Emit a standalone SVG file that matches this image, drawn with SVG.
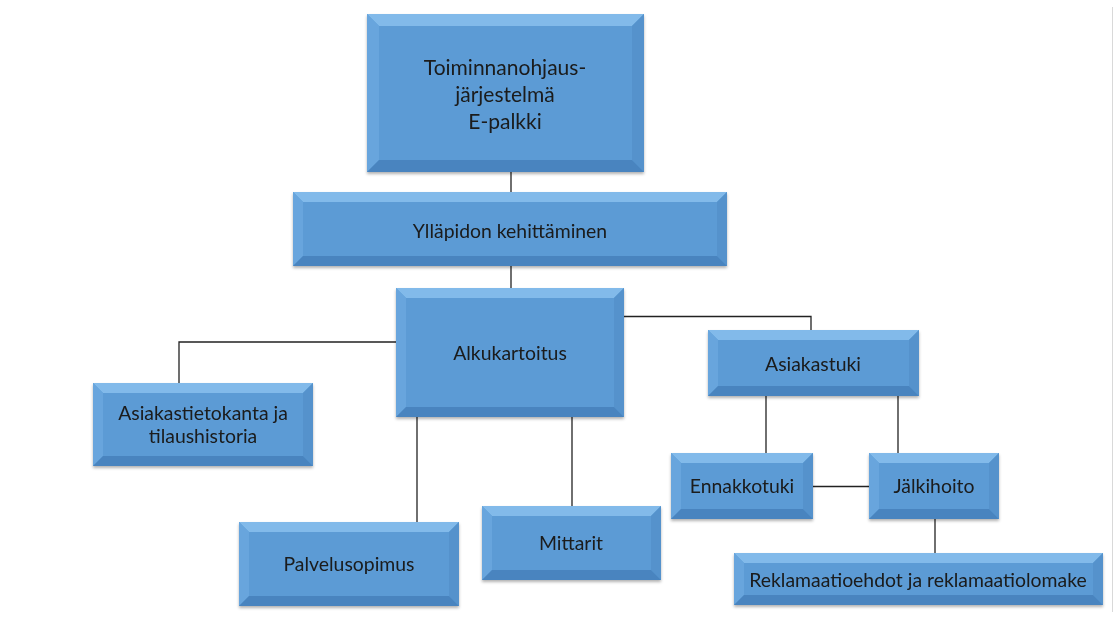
<svg xmlns="http://www.w3.org/2000/svg" width="1120" height="621" viewBox="0 0 1120 621">
<defs>
<filter id="sh" x="-10%" y="-10%" width="120%" height="130%">
<feDropShadow dx="0" dy="2" stdDeviation="1.6" flood-color="#000" flood-opacity="0.3"/>
</filter>
<style>
.c{fill:#5B9BD5}
.bt{fill:#82BAEA}
.bl{fill:#67A5DD}
.br{fill:#5592CC}
.bb{fill:#4884BF}
.t{font-family:Lato,"Liberation Sans",sans-serif;font-size:19.4px;fill:#1a1a1a;text-anchor:middle}
.tl{font-size:21px}
.ln{stroke:#222;stroke-width:1.3;fill:none}
</style>
</defs>
<rect width="1120" height="621" fill="#fff"/>
<line x1="1112.5" y1="7" x2="1112.5" y2="612" stroke="#d9d9d9" stroke-width="1"/>
<g id="connectors" class="ln">
<line x1="511" y1="172" x2="511" y2="192"/>
<line x1="511" y1="266" x2="511" y2="288"/>
<polyline points="396,342 179,342 179,383"/>
<polyline points="624,316.5 811,316.5 811,330"/>
<line x1="417" y1="417" x2="417" y2="522"/>
<line x1="572" y1="417" x2="572" y2="506"/>
<line x1="766" y1="396" x2="766" y2="453"/>
<line x1="898" y1="396" x2="898" y2="453"/>
<line x1="813" y1="486.5" x2="869" y2="486.5"/>
<line x1="935" y1="519" x2="935" y2="553"/>
</g>
<g id="n1" filter="url(#sh)">
<rect class="c" x="367" y="14" width="277" height="158"/>
<polygon class="bt" points="367,14 644,14 632,26 379,26"/>
<polygon class="bl" points="367,14 379,26 379,160 367,172"/>
<polygon class="br" points="644,14 644,172 632,160 632,26"/>
<polygon class="bb" points="367,172 379,160 632,160 644,172"/>
<rect class="c" x="379" y="26" width="253" height="134"/>
<text class="t tl" x="505" y="75">Toiminnanohjaus-</text>
<text class="t tl" x="505" y="102">järjestelmä</text>
<text class="t tl" x="505" y="129">E-palkki</text>
</g>
<g id="n2" filter="url(#sh)">
<rect class="c" x="293" y="192" width="434" height="74"/>
<polygon class="bt" points="293,192 727,192 717,202 303,202"/>
<polygon class="bl" points="293,192 303,202 303,256 293,266"/>
<polygon class="br" points="727,192 727,266 717,256 717,202"/>
<polygon class="bb" points="293,266 303,256 717,256 727,266"/>
<text class="t" x="510" y="238">Ylläpidon kehittäminen</text>
</g>
<g id="n3" filter="url(#sh)">
<rect class="c" x="396" y="288" width="228" height="129"/>
<polygon class="bt" points="396,288 624,288 614,298 406,298"/>
<polygon class="bl" points="396,288 406,298 406,407 396,417"/>
<polygon class="br" points="624,288 624,417 614,407 614,298"/>
<polygon class="bb" points="396,417 406,407 614,407 624,417"/>
<text class="t" x="510" y="360">Alkukartoitus</text>
</g>
<g id="n4" filter="url(#sh)">
<rect class="c" x="708" y="330" width="211" height="66"/>
<polygon class="bt" points="708,330 919,330 909,340 718,340"/>
<polygon class="bl" points="708,330 718,340 718,386 708,396"/>
<polygon class="br" points="919,330 919,396 909,386 909,340"/>
<polygon class="bb" points="708,396 718,386 909,386 919,396"/>
<text class="t" x="813" y="371">Asiakastuki</text>
</g>
<g id="n5" filter="url(#sh)">
<rect class="c" x="93" y="383" width="220" height="83"/>
<polygon class="bt" points="93,383 313,383 303,393 103,393"/>
<polygon class="bl" points="93,383 103,393 103,456 93,466"/>
<polygon class="br" points="313,383 313,466 303,456 303,393"/>
<polygon class="bb" points="93,466 103,456 303,456 313,466"/>
<text class="t" x="203" y="420">Asiakastietokanta ja</text>
<text class="t" x="203" y="443">tilaushistoria</text>
</g>
<g id="n6" filter="url(#sh)">
<rect class="c" x="239" y="522" width="220" height="84"/>
<polygon class="bt" points="239,522 459,522 449,532 249,532"/>
<polygon class="bl" points="239,522 249,532 249,596 239,606"/>
<polygon class="br" points="459,522 459,606 449,596 449,532"/>
<polygon class="bb" points="239,606 249,596 449,596 459,606"/>
<text class="t" x="349" y="571">Palvelusopimus</text>
</g>
<g id="n7" filter="url(#sh)">
<rect class="c" x="482" y="506" width="179" height="74"/>
<polygon class="bt" points="482,506 661,506 651,516 492,516"/>
<polygon class="bl" points="482,506 492,516 492,570 482,580"/>
<polygon class="br" points="661,506 661,580 651,570 651,516"/>
<polygon class="bb" points="482,580 492,570 651,570 661,580"/>
<text class="t" x="571" y="550">Mittarit</text>
</g>
<g id="n8" filter="url(#sh)">
<rect class="c" x="671" y="453" width="142" height="66"/>
<polygon class="bt" points="671,453 813,453 803,463 681,463"/>
<polygon class="bl" points="671,453 681,463 681,509 671,519"/>
<polygon class="br" points="813,453 813,519 803,509 803,463"/>
<polygon class="bb" points="671,519 681,509 803,509 813,519"/>
<text class="t" x="742" y="493">Ennakkotuki</text>
</g>
<g id="n9" filter="url(#sh)">
<rect class="c" x="869" y="453" width="130" height="66"/>
<polygon class="bt" points="869,453 999,453 989,463 879,463"/>
<polygon class="bl" points="869,453 879,463 879,509 869,519"/>
<polygon class="br" points="999,453 999,519 989,509 989,463"/>
<polygon class="bb" points="869,519 879,509 989,509 999,519"/>
<text class="t" x="934" y="493">Jälkihoito</text>
</g>
<g id="n10" filter="url(#sh)">
<rect class="c" x="734" y="553" width="369" height="52"/>
<polygon class="bt" points="734,553 1103,553 1093,563 744,563"/>
<polygon class="bl" points="734,553 744,563 744,595 734,605"/>
<polygon class="br" points="1103,553 1103,605 1093,595 1093,563"/>
<polygon class="bb" points="734,605 744,595 1093,595 1103,605"/>
<text class="t" x="918" y="587">Reklamaatioehdot ja reklamaatiolomake</text>
</g>
</svg>
